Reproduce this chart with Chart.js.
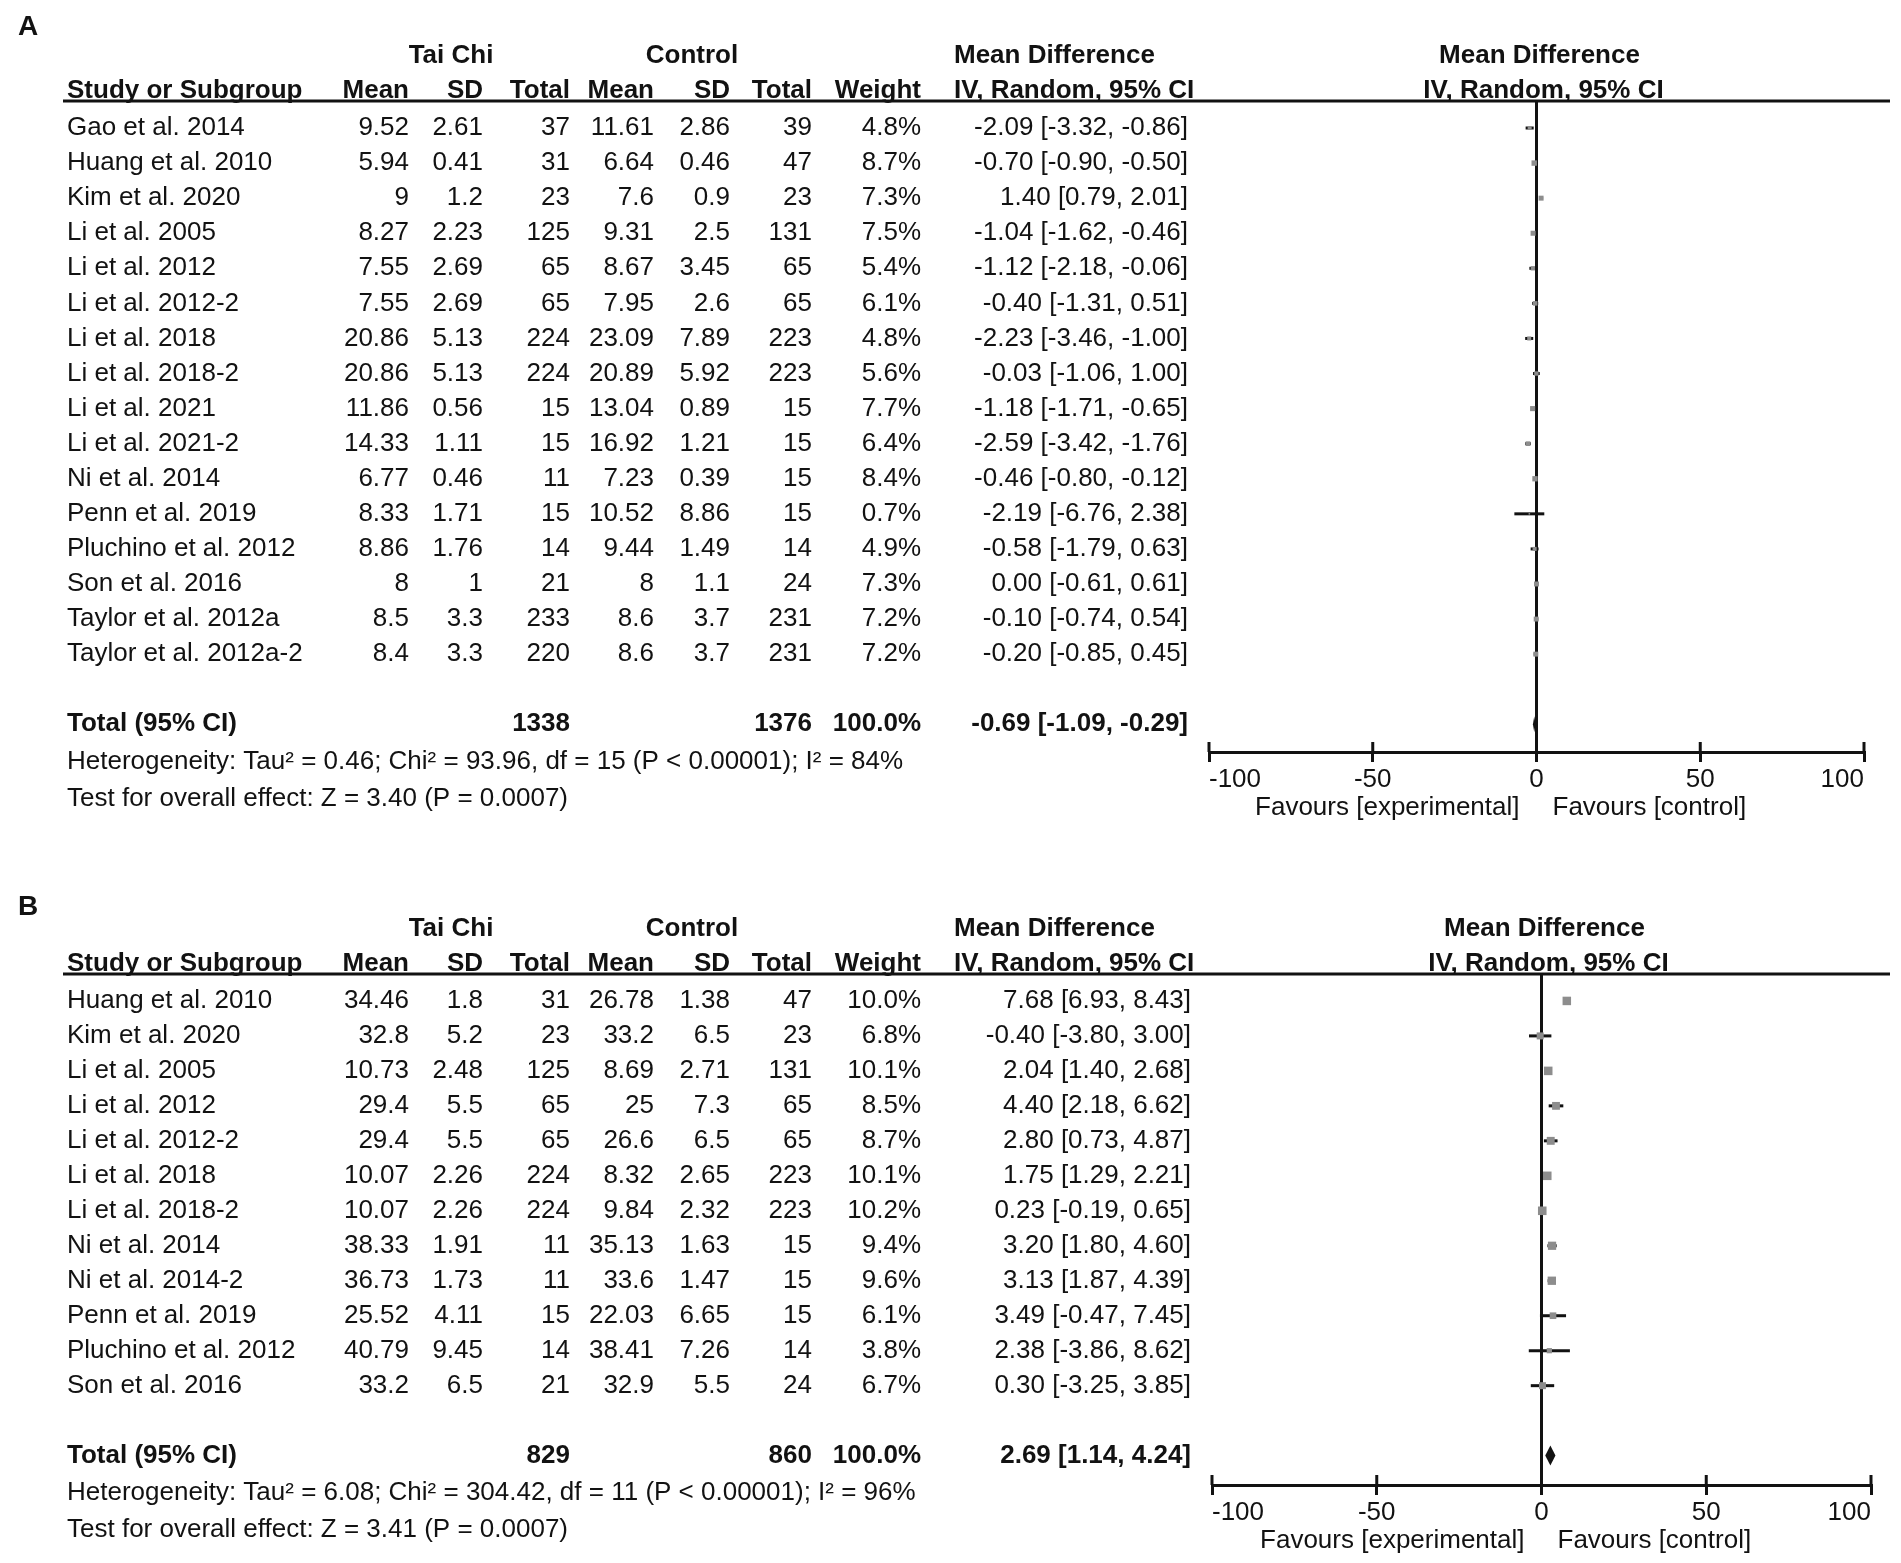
<!DOCTYPE html>
<html>
<head>
<meta charset="utf-8">
<script src="https://cdn.jsdelivr.net/npm/chart.js@4.4.1/dist/chart.umd.min.js"></script>
<style>
    body { margin: 0; background: #fff; }
    #wrap { position: relative; width: 1901px; height: 1563px; overflow: hidden; }
    canvas { position: absolute; left: 0; }
</style>
</head>
<body>
<div id="wrap">
    <canvas id="forestA" width="1901" height="830" style="top:0px"></canvas>
    <canvas id="forestB" width="1901" height="733" style="top:830px"></canvas>
</div>
<script>
// --- DATA: panel A ---
const studiesA = ['Gao et al. 2014', 'Huang et al. 2010', 'Kim et al. 2020', 'Li et al. 2005', 'Li et al. 2012',
    'Li et al. 2012-2', 'Li et al. 2018', 'Li et al. 2018-2', 'Li et al. 2021', 'Li et al. 2021-2', 'Ni et al. 2014',
    'Penn et al. 2019', 'Pluchino et al. 2012', 'Son et al. 2016', 'Taylor et al. 2012a', 'Taylor et al. 2012a-2'];
const taiMeanA = [9.52, 5.94, 9, 8.27, 7.55, 7.55, 20.86, 20.86, 11.86, 14.33, 6.77, 8.33, 8.86, 8, 8.5, 8.4];
const taiSdA = [2.61, 0.41, 1.2, 2.23, 2.69, 2.69, 5.13, 5.13, 0.56, 1.11, 0.46, 1.71, 1.76, 1, 3.3, 3.3];
const taiTotalA = [37, 31, 23, 125, 65, 65, 224, 224, 15, 15, 11, 15, 14, 21, 233, 220];
const ctlMeanA = [11.61, 6.64, 7.6, 9.31, 8.67, 7.95, 23.09, 20.89, 13.04, 16.92, 7.23, 10.52, 9.44, 8, 8.6, 8.6];
const ctlSdA = [2.86, 0.46, 0.9, 2.5, 3.45, 2.6, 7.89, 5.92, 0.89, 1.21, 0.39, 8.86, 1.49, 1.1, 3.7, 3.7];
const ctlTotalA = [39, 47, 23, 131, 65, 65, 223, 223, 15, 15, 15, 15, 14, 24, 231, 231];
const weightA = [4.8, 8.7, 7.3, 7.5, 5.4, 6.1, 4.8, 5.6, 7.7, 6.4, 8.4, 0.7, 4.9, 7.3, 7.2, 7.2];
const mdA = [-2.09, -0.70, 1.40, -1.04, -1.12, -0.40, -2.23, -0.03, -1.18, -2.59, -0.46, -2.19, -0.58, 0.00, -0.10, -0.20];
const loA = [-3.32, -0.90, 0.79, -1.62, -2.18, -1.31, -3.46, -1.06, -1.71, -3.42, -0.80, -6.76, -1.79, -0.61, -0.74, -0.85];
const hiA = [-0.86, -0.50, 2.01, -0.46, -0.06, 0.51, -1.00, 1.00, -0.65, -1.76, -0.12, 2.38, 0.63, 0.61, 0.54, 0.45];
const totalA = { tai: 1338, ctl: 1376, weight: 100.0, md: -0.69, lo: -1.09, hi: -0.29 };
const hetA = 'Heterogeneity: Tau\u00b2 = 0.46; Chi\u00b2 = 93.96, df = 15 (P < 0.00001); I\u00b2 = 84%';
const testA = 'Test for overall effect: Z = 3.40 (P = 0.0007)';

// --- DATA: panel B ---
const studiesB = ['Huang et al. 2010', 'Kim et al. 2020', 'Li et al. 2005', 'Li et al. 2012', 'Li et al. 2012-2',
    'Li et al. 2018', 'Li et al. 2018-2', 'Ni et al. 2014', 'Ni et al. 2014-2', 'Penn et al. 2019',
    'Pluchino et al. 2012', 'Son et al. 2016'];
const taiMeanB = [34.46, 32.8, 10.73, 29.4, 29.4, 10.07, 10.07, 38.33, 36.73, 25.52, 40.79, 33.2];
const taiSdB = [1.8, 5.2, 2.48, 5.5, 5.5, 2.26, 2.26, 1.91, 1.73, 4.11, 9.45, 6.5];
const taiTotalB = [31, 23, 125, 65, 65, 224, 224, 11, 11, 15, 14, 21];
const ctlMeanB = [26.78, 33.2, 8.69, 25, 26.6, 8.32, 9.84, 35.13, 33.6, 22.03, 38.41, 32.9];
const ctlSdB = [1.38, 6.5, 2.71, 7.3, 6.5, 2.65, 2.32, 1.63, 1.47, 6.65, 7.26, 5.5];
const ctlTotalB = [47, 23, 131, 65, 65, 223, 223, 15, 15, 15, 14, 24];
const weightB = [10.0, 6.8, 10.1, 8.5, 8.7, 10.1, 10.2, 9.4, 9.6, 6.1, 3.8, 6.7];
const mdB = [7.68, -0.40, 2.04, 4.40, 2.80, 1.75, 0.23, 3.20, 3.13, 3.49, 2.38, 0.30];
const loB = [6.93, -3.80, 1.40, 2.18, 0.73, 1.29, -0.19, 1.80, 1.87, -0.47, -3.86, -3.25];
const hiB = [8.43, 3.00, 2.68, 6.62, 4.87, 2.21, 0.65, 4.60, 4.39, 7.45, 8.62, 3.85];
const totalB = { tai: 829, ctl: 860, weight: 100.0, md: 2.69, lo: 1.14, hi: 4.24 };
const hetB = 'Heterogeneity: Tau\u00b2 = 6.08; Chi\u00b2 = 304.42, df = 11 (P < 0.00001); I\u00b2 = 96%';
const testB = 'Test for overall effect: Z = 3.41 (P = 0.0007)';

const axisTicks = [-100, -50, 0, 50, 100];

// --- LAYOUT ---
const FONT = "'Liberation Sans', Arial, Helvetica, sans-serif";
const INK = '#121212';
const COLS = { study: 67, taiMean: 409, taiSd: 483, taiTotal: 570, ctlMean: 654, ctlSd: 730, ctlTotal: 812, weight: 921 };

Chart.defaults.font.family = FONT;
Chart.defaults.color = INK;

function fmtCI(md, lo, hi) {
    return md.toFixed(2) + ' [' + lo.toFixed(2) + ', ' + hi.toFixed(2) + ']';
}

function makeTablePlugin(p) {
    return {
        id: 'forestTable' + p.label,
        afterDraw(chart) {
            const ctx = chart.ctx;
            const ys = chart.scales.y;
            const xs = chart.scales.x;
            const area = chart.chartArea;
            const zero = xs.getPixelForValue(0);
            const totalRow = p.studies.length + 1;

            const text = (str, x, y, align, bold) => {
                ctx.font = (bold ? 'bold ' : '') + '26px ' + FONT;
                ctx.textAlign = align;
                ctx.textBaseline = 'middle';
                ctx.fillStyle = INK;
                ctx.fillText(str, x, y);
            };

            ctx.save();
            // panel letter
            ctx.font = 'bold 28px ' + FONT;
            ctx.textAlign = 'left';
            ctx.textBaseline = 'middle';
            ctx.fillStyle = INK;
            ctx.fillText(p.label, 18, p.labelY);

            // group headers
            const g = ys.getPixelForValue(-2.05);
            text('Tai Chi', 451, g, 'center', true);
            text('Control', 692, g, 'center', true);
            text('Mean Difference', 954, g, 'left', true);
            text('Mean Difference', zero + 3, g, 'center', true);

            // column headers
            const h = ys.getPixelForValue(-1.05);
            text('Study or Subgroup', COLS.study, h, 'left', true);
            text('Mean', COLS.taiMean, h, 'right', true);
            text('SD', COLS.taiSd, h, 'right', true);
            text('Total', COLS.taiTotal, h, 'right', true);
            text('Mean', COLS.ctlMean, h, 'right', true);
            text('SD', COLS.ctlSd, h, 'right', true);
            text('Total', COLS.ctlTotal, h, 'right', true);
            text('Weight', COLS.weight, h, 'right', true);
            text('IV, Random, 95% CI', 954, h, 'left', true);
            text('IV, Random, 95% CI', zero + 7, h, 'center', true);

            // header rule
            ctx.strokeStyle = INK;
            ctx.lineWidth = 3;
            ctx.beginPath();
            ctx.moveTo(63, area.top);
            ctx.lineTo(1890, area.top);
            ctx.stroke();

            // study rows
            p.studies.forEach((s, i) => {
                const y = ys.getPixelForValue(i);
                text(s, COLS.study, y, 'left', false);
                text(String(p.taiMean[i]), COLS.taiMean, y, 'right', false);
                text(String(p.taiSd[i]), COLS.taiSd, y, 'right', false);
                text(String(p.taiTotal[i]), COLS.taiTotal, y, 'right', false);
                text(String(p.ctlMean[i]), COLS.ctlMean, y, 'right', false);
                text(String(p.ctlSd[i]), COLS.ctlSd, y, 'right', false);
                text(String(p.ctlTotal[i]), COLS.ctlTotal, y, 'right', false);
                text(p.weight[i].toFixed(1) + '%', COLS.weight, y, 'right', false);
                text(fmtCI(p.md[i], p.lo[i], p.hi[i]), p.ciRight, y, 'right', false);
            });

            // total row
            const t = ys.getPixelForValue(totalRow);
            text('Total (95% CI)', COLS.study, t, 'left', true);
            text(String(p.total.tai), COLS.taiTotal, t, 'right', true);
            text(String(p.total.ctl), COLS.ctlTotal, t, 'right', true);
            text(p.total.weight.toFixed(1) + '%', COLS.weight, t, 'right', true);
            text(fmtCI(p.total.md, p.total.lo, p.total.hi), p.ciRight, t, 'right', true);

            text(p.het, COLS.study, ys.getPixelForValue(totalRow + 1.06), 'left', false);
            text(p.test, COLS.study, ys.getPixelForValue(totalRow + 2.12), 'left', false);

            // upper half of the axis ticks
            ctx.strokeStyle = INK;
            ctx.lineWidth = 3;
            xs.ticks.forEach(tk => {
                const px = xs.getPixelForValue(tk.value);
                ctx.beginPath();
                ctx.moveTo(px, area.bottom - 10);
                ctx.lineTo(px, area.bottom);
                ctx.stroke();
            });

            // favours labels
            text('Favours [experimental]', zero - 17, area.bottom + 56, 'right', false);
            text('Favours [control]', zero + 16, area.bottom + 56, 'left', false);

            // pooled diamond
            const dx = v => xs.getPixelForValue(v);
            ctx.fillStyle = INK;
            ctx.beginPath();
            ctx.moveTo(dx(p.total.lo), t);
            ctx.lineTo(dx(p.total.md), t - p.diamondH);
            ctx.lineTo(dx(p.total.hi), t);
            ctx.lineTo(dx(p.total.md), t + p.diamondH);
            ctx.closePath();
            ctx.fill();
            ctx.restore();
        }
    };
}

function buildDatasets(p) {
    const squares = {
        data: p.md.map((v, i) => ({ x: v, y: i })),
        pointStyle: 'rect',
        pointRadius: p.weight.map(w => p.boxScale * Math.sqrt(w)),
        backgroundColor: '#8d8d8d',
        borderWidth: 0,
        order: 0
    };
    const lines = p.lo.map((l, i) => ({
        data: [{ x: l, y: i }, { x: p.hi[i], y: i }],
        showLine: true,
        borderColor: INK,
        borderWidth: 3,
        pointRadius: 0,
        order: 1
    }));
    return [squares, ...lines];
}

function renderForest(canvasId, p) {
    const ctx = document.getElementById(canvasId).getContext('2d');
    return new Chart(ctx, {
        type: 'scatter',
        data: { datasets: buildDatasets(p) },
        plugins: [makeTablePlugin(p)],
        options: {
            responsive: false,
            animation: false,
            devicePixelRatio: 1,
            layout: { padding: { left: p.padLeft, right: p.padRight, top: p.padTop, bottom: 0 } },
            plugins: { legend: { display: false }, tooltip: { enabled: false } },
            scales: {
                x: {
                    type: 'linear',
                    min: -100,
                    max: 100,
                    afterBuildTicks: s => { s.ticks = axisTicks.map(v => ({ value: v })); },
                    afterFit: s => { s.height = 78; },
                    ticks: {
                        font: { size: 26, family: FONT },
                        color: INK,
                        padding: 2,
                        align: 'inner',
                        maxRotation: 0,
                        callback: v => String(v)
                    },
                    grid: {
                        drawOnChartArea: true,
                        color: c => (c.tick && c.tick.value === 0) ? INK : 'rgba(0,0,0,0)',
                        lineWidth: 3,
                        tickColor: INK,
                        tickLength: 10,
                        tickWidth: 3
                    },
                    border: { display: true, color: INK, width: 3 }
                },
                y: {
                    type: 'linear',
                    display: false,
                    reverse: true,
                    min: p.yMin,
                    max: p.yMax
                }
            }
        }
    });
}

renderForest('forestA', {
    label: 'A', labelY: 27,
    studies: studiesA, taiMean: taiMeanA, taiSd: taiSdA, taiTotal: taiTotalA,
    ctlMean: ctlMeanA, ctlSd: ctlSdA, ctlTotal: ctlTotalA, weight: weightA,
    md: mdA, lo: loA, hi: hiA, total: totalA, het: hetA, test: testA,
    ciRight: 1188, padLeft: 1209, padRight: 37, padTop: 101, yMin: -0.77, yMax: 17.79,
    boxScale: 1.3, diamondH: 8
});

renderForest('forestB', {
    label: 'B', labelY: 77,
    studies: studiesB, taiMean: taiMeanB, taiSd: taiSdB, taiTotal: taiTotalB,
    ctlMean: ctlMeanB, ctlSd: ctlSdB, ctlTotal: ctlTotalB, weight: weightB,
    md: mdB, lo: loB, hi: hiB, total: totalB, het: hetB, test: testB,
    ciRight: 1191, padLeft: 1212, padRight: 30, padTop: 144, yMin: -0.77, yMax: 13.84,
    boxScale: 1.9, diamondH: 10
});
</script>
</body>
</html>
